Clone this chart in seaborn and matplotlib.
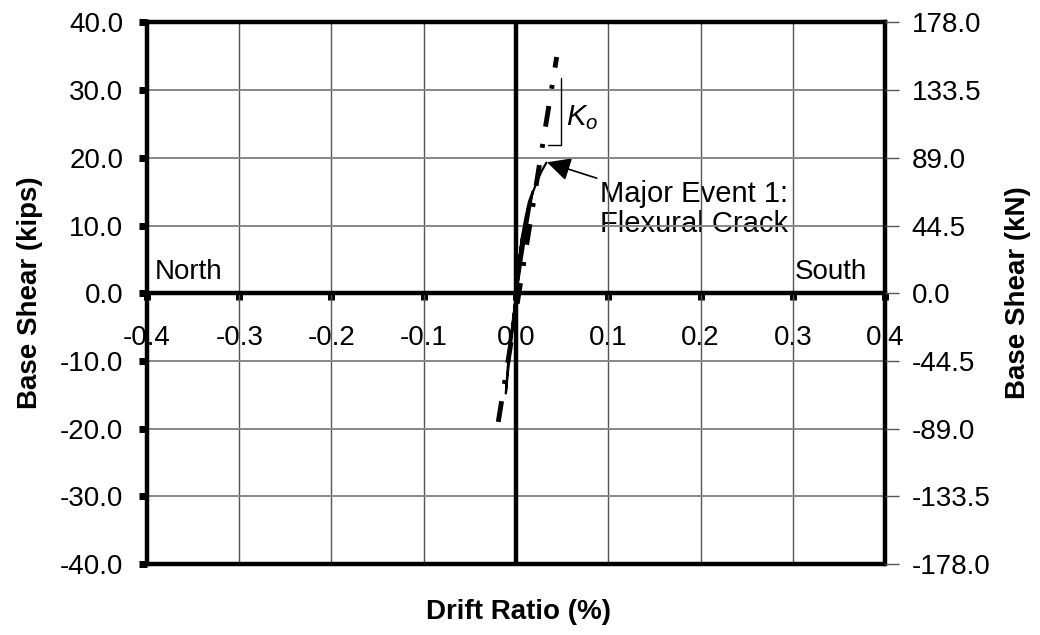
import numpy as np
import pandas as pd
import matplotlib
matplotlib.use("Agg")
import matplotlib.pyplot as plt
import seaborn as sns

# Drift ratio (%) and base shear (kips) for the measured hysteresis up to first flexural cracking
drift = [0.000, 0.002, 0.004, 0.007, 0.005, 0.002, -0.001, -0.003, -0.005, -0.003,
         0.000, 0.003, 0.006, 0.010, 0.014, 0.018, 0.015, 0.010, 0.005, 0.001,
         -0.003, -0.006, -0.009, -0.011, -0.009, -0.005, -0.001, 0.003, 0.008,
         0.013, 0.018, 0.023, 0.028, 0.033]
shear = [0.0, 3.0, 5.5, 8.5, 6.5, 2.5, -1.5, -4.0, -6.5, -4.0,
         0.0, 4.5, 8.0, 11.0, 13.5, 15.0, 12.5, 8.5, 4.0, 0.5,
         -3.5, -7.0, -11.0, -14.8, -12.0, -7.0, -2.0, 3.0, 8.5,
         12.5, 14.8, 16.6, 18.1, 19.3]

# Initial stiffness line K_o
ko_drift = [-0.0192, 0.0441]
ko_shear = [-19.0, 34.9]

# Stiffness bracket next to the K_o line
bracket_drift = [0.0347, 0.0488, 0.0488]
bracket_shear = [21.9, 21.9, 31.8]

# Axis ticks
x_ticks = [-0.4, -0.3, -0.2, -0.1, 0.0, 0.1, 0.2, 0.3, 0.4]
y_ticks_kips = [-40, -30, -20, -10, 0, 10, 20, 30, 40]
y_ticks_kn = [-178.0, -133.5, -89.0, -44.5, 0.0, 44.5, 89.0, 133.5, 178.0]

# Cracking event
event_point = (0.0336, 19.35)
event_label = "Major Event 1:\nFlexural Crack"

sns.set_theme(style="white")
plt.rcParams["font.family"] = ["Liberation Sans", "DejaVu Sans"]
plt.rcParams["mathtext.fontset"] = "custom"
plt.rcParams["mathtext.it"] = "Liberation Sans:italic"
plt.rcParams["mathtext.rm"] = "Liberation Sans"
for key in ["text.color", "axes.labelcolor", "xtick.color", "ytick.color"]:
    plt.rcParams[key] = "black"

TICK_FS = 20

fig = plt.figure(figsize=(10.4, 6.35), dpi=100)
ax = fig.add_axes([0.1413, 0.1118, 0.7097, 0.8528])

ax.set_xlim(-0.4, 0.4)
ax.set_ylim(-40, 40)

# Grid lines drawn over the labels
for xv in x_ticks:
    ax.axvline(xv, color="#555555", lw=1.0, zorder=1)
for yv in y_ticks_kips:
    ax.axhline(yv, color="#888888", lw=1.4, zorder=1)

# Frame and zero axes
for side in ["left", "right", "top", "bottom"]:
    ax.spines[side].set_linewidth(3.2)
    ax.spines[side].set_color("black")
    ax.spines[side].set_zorder(2)
ax.spines["bottom"].set_position(("data", 0))
ax.axhline(-40, color="black", lw=3.2, zorder=2, clip_on=False)
ax.axvline(0, color="black", lw=3.2, zorder=2)

ax.set_xticks(x_ticks)
ax.set_yticks(y_ticks_kips)
ax.set_yticklabels([f"{v:.1f}" for v in y_ticks_kips], fontsize=TICK_FS)
ax.tick_params(axis="x", direction="out", length=5, width=5, color="black",
               labelbottom=False, bottom=True)
ax.tick_params(axis="y", direction="out", length=6, width=5, color="black",
               labelcolor="black", pad=11, left=True)

# x tick labels placed just below the zero line
for xv in x_ticks:
    ax.text(xv, -6.65, f"{xv:.1f}", ha="center", va="center", fontsize=TICK_FS,
            color="black", zorder=0.5)

# Direction labels
ax.text(-0.392, 3.1, "North", ha="left", va="center", fontsize=TICK_FS, color="black", zorder=0.5)
ax.text(0.302, 3.1, "South", ha="left", va="center", fontsize=TICK_FS, color="black", zorder=0.5)

# Measured response
df = pd.DataFrame({"drift": drift, "shear": shear})
sns.lineplot(data=df, x="drift", y="shear", sort=False, estimator=None,
             color="black", lw=1.6, ax=ax, zorder=3)

# Initial stiffness line
ko = pd.DataFrame({"drift": ko_drift, "shear": ko_shear})
sns.lineplot(data=ko, x="drift", y="shear", sort=False, estimator=None,
             color="black", lw=3.5, ax=ax, zorder=4)
ax.lines[-1].set_dashes([4.3, 3.6, 0.8, 3.6])
ax.lines[-1].set_dash_capstyle("butt")

br = pd.DataFrame({"drift": bracket_drift, "shear": bracket_shear})
sns.lineplot(data=br, x="drift", y="shear", sort=False, estimator=None,
             color="black", lw=1.0, ax=ax, zorder=3)
ax.text(0.0545, 26.0, r"$K_o$", ha="left", va="center", fontsize=21, color="black", zorder=3)

ax.annotate(event_label, xy=event_point, xytext=(0.091, 12.4),
            ha="left", va="center", fontsize=21, color="black", zorder=0.5, linespacing=1.1,
            arrowprops=dict(arrowstyle="-|>", color="black", lw=1.2,
                            mutation_scale=36, shrinkA=0, shrinkB=0))

ax.set_xlabel("")
ax.set_ylabel("")

# Right axis in kN
ax2 = ax.twinx()
ax2.set_ylim(-178, 178)
ax2.set_yticks(y_ticks_kn)
ax2.set_yticklabels([f"{v:.1f}" for v in y_ticks_kn], fontsize=TICK_FS)
ax2.tick_params(axis="y", direction="out", length=10, width=1, color="#555555",
                labelcolor="black", pad=9)
for side in ["left", "right", "top", "bottom"]:
    ax2.spines[side].set_visible(False)

fig.text(30 / 1040, 0.5386, "Base Shear (kips)", rotation=90, ha="center", va="center",
         fontsize=20, fontweight="bold", color="black")
fig.text(1018 / 1040, 0.5386, "Base Shear (kN)", rotation=90, ha="center", va="center",
         fontsize=20, fontweight="bold", color="black")
fig.text(518 / 1040, 1 - 612 / 635, "Drift Ratio (%)", ha="center", va="center",
         fontsize=20, fontweight="bold", color="black")

fig.savefig("out.png", dpi=100)
